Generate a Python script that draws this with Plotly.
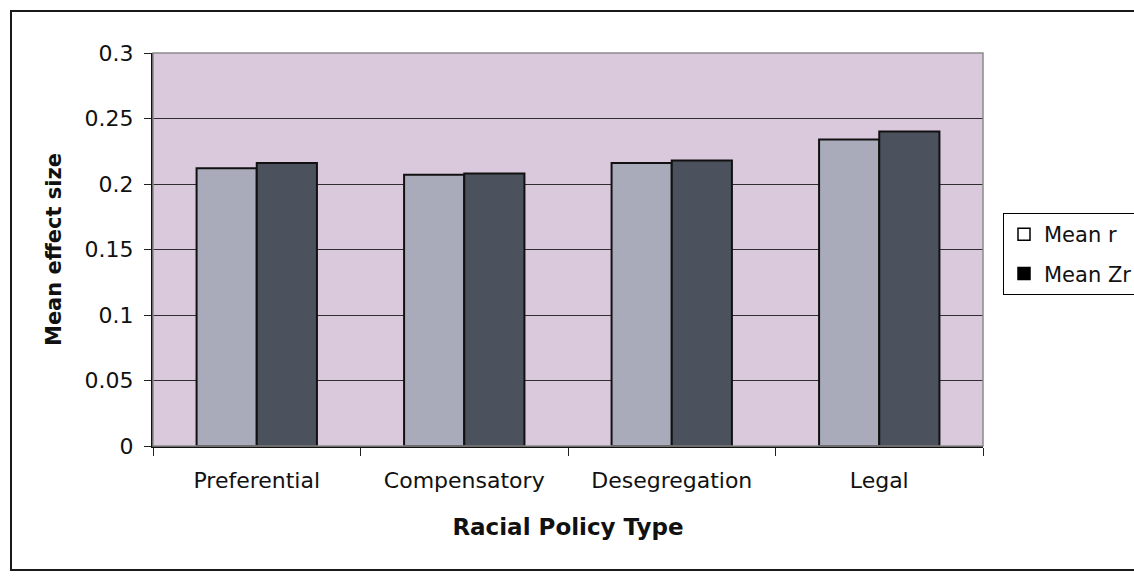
import plotly.graph_objects as go

# Mean effect sizes by racial policy type
categories = ["Preferential", "Compensatory", "Desegregation", "Legal"]
mean_r = [0.212, 0.207, 0.216, 0.234]
mean_zr = [0.216, 0.208, 0.218, 0.240]
y_ticks = [0, 0.05, 0.1, 0.15, 0.2, 0.25, 0.3]

W, H = 1134, 577
L, R, T, B = 153, 983, 53, 446  # plot area in pixels

FONT = "DejaVu Sans"


def px_x(px):
    return (px - L) / (R - L)


def px_y(py):
    return (B - py) / (B - T)


fig = go.Figure()

fig.add_trace(go.Bar(
    x=categories, y=mean_r, name="Mean r", showlegend=False,
    marker=dict(color="#a9abba", line=dict(color="#111111", width=2)),
))
fig.add_trace(go.Bar(
    x=categories, y=mean_zr, name="Mean Zr", showlegend=False,
    marker=dict(color="#4b525d", line=dict(color="#111111", width=2)),
))

# legend keys: open square for r, filled square for Zr
fig.add_trace(go.Scatter(
    x=[None], y=[None], name="Mean r", legendgroup="r", mode="markers",
    marker=dict(symbol="square", size=12, color="white",
                line=dict(color="black", width=1.5)),
))
fig.add_trace(go.Scatter(
    x=[None], y=[None], name="Mean Zr", legendgroup="zr", mode="markers",
    marker=dict(symbol="square", size=12, color="black",
                line=dict(color="black", width=1.5)),
))

shapes = [
    # plot-area frame
    dict(type="rect", xref="paper", yref="paper", x0=0, x1=1, y0=0, y1=1,
         line=dict(color="#8a8a8a", width=1.5), layer="above"),
    # outer chart border
    dict(type="rect", xref="paper", yref="paper",
         x0=px_x(11), x1=px_x(1145), y0=px_y(570), y1=px_y(11),
         line=dict(color="#1a1a1a", width=2), layer="above"),
]

fig.update_layout(
    width=W, height=H,
    margin=dict(l=L, r=W - R, t=T, b=H - B, autoexpand=False),
    paper_bgcolor="white",
    plot_bgcolor="#dac8dc",
    barmode="group", bargap=0.42, bargroupgap=0,
    font=dict(family=FONT, size=21, color="#111111"),
    shapes=shapes,
    legend=dict(
        x=px_x(1003), xanchor="left", y=px_y(213), yanchor="top",
        bgcolor="white", bordercolor="black", borderwidth=1,
        font=dict(family=FONT, size=21, color="#111111"),
        tracegroupgap=9, itemwidth=30,
    ),
    xaxis=dict(
        type="category", tickson="boundaries",
        ticks="outside", ticklen=8, tickcolor="#222", tickwidth=1,
        ticklabelstandoff=14,
        showline=True, linecolor="#111111", linewidth=2,
        tickfont=dict(family=FONT, size=22, color="#111111"),
        title=dict(text="<b>Racial Policy Type</b>", standoff=26,
                   font=dict(family=FONT, size=23, color="#111111")),
        showgrid=False,
    ),
    yaxis=dict(
        range=[0, 0.3], tickvals=y_ticks,
        ticktext=[f"{v:g}" for v in y_ticks],
        ticks="outside", ticklen=7, tickcolor="#222", tickwidth=1,
        ticklabelstandoff=6,
        showline=True, linecolor="#111111", linewidth=2,
        showgrid=True, gridcolor="#2f2f2f", gridwidth=1,
        zeroline=False,
        tickfont=dict(family=FONT, size=22, color="#111111"),
        title=dict(text="<b>Mean effect size</b>", standoff=17,
                   font=dict(family=FONT, size=21, color="#111111")),
    ),
)

fig.write_html("out.html")
